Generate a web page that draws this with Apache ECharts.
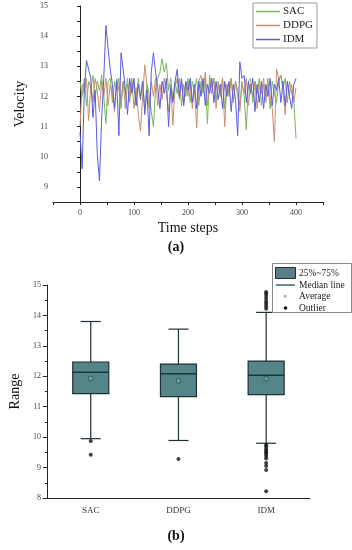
<!DOCTYPE html>
<html><head><meta charset="utf-8">
<script src="https://cdn.jsdelivr.net/npm/echarts@6/dist/echarts.min.js"></script>
<style>html,body{margin:0;padding:0;background:#fff}#c{width:352px;height:550px}</style>
</head><body><div id="c"></div>
<script>
// ---- Data (a): velocity, sampled every 4 time steps ----
var timeSteps = [];
for (var t = 0; t <= 400; t += 4) timeSteps.push(t);
var sacVel = [12.5,12.0,12.6,11.7,12.5,12.3,12.7,11.9,12.5,12.2,12.7,12.0,11.1,12.5,12.6,11.8,12.5,12.2,12.6,11.6,12.5,12.1,12.6,11.8,12.5,12.3,11.7,12.6,12.0,12.5,11.6,12.4,12.1,11.5,11.0,12.3,12.6,12.8,13.25,12.8,13.1,12.2,12.6,11.9,12.5,12.1,12.6,11.7,12.4,12.0,12.6,11.8,12.5,12.2,12.6,11.7,12.5,12.1,12.6,11.1,12.7,12.3,12.6,11.8,12.5,12.1,12.6,11.6,12.4,12.0,12.6,11.8,12.5,12.2,11.7,12.5,12.0,10.9,12.5,12.6,11.8,12.5,12.1,12.6,11.7,12.4,12.0,12.6,11.6,12.5,12.1,11.8,12.5,12.7,12.3,12.6,11.8,12.5,12.1,11.9,10.6];
var ddpgVel = [11.0,12.4,12.1,12.6,11.2,12.4,11.8,12.6,12.2,11.5,12.5,12.0,12.6,11.7,12.4,12.1,11.5,12.6,12.2,11.9,12.5,11.6,12.4,12.0,12.6,11.6,12.3,11.4,10.85,12.0,13.05,12.4,11.6,12.5,12.0,12.6,11.7,12.4,11.9,12.6,12.1,11.5,12.4,11.05,12.3,12.6,11.9,12.5,11.7,12.4,12.0,12.5,11.6,12.3,10.95,12.5,12.7,12.2,12.8,11.7,12.5,12.1,12.6,11.6,12.4,12.0,12.6,11.0,12.4,12.1,12.6,11.8,12.5,12.0,11.5,12.4,12.1,12.6,11.7,12.4,12.0,12.5,11.6,12.4,12.1,12.6,11.8,12.4,12.0,11.6,10.5,12.9,12.6,12.7,12.2,11.4,12.5,12.1,12.4,11.8,12.3];
var idmVel = [10.8,9.6,12.2,13.2,12.9,12.6,11.3,12.2,10.1,9.2,11.2,12.6,14.35,13.6,12.9,12.4,11.6,12.5,10.7,13.45,12.9,12.2,11.4,12.6,12.1,12.6,11.7,12.4,11.9,12.5,11.4,12.2,10.7,12.8,13.45,12.8,12.3,11.6,12.5,12.1,12.6,11.0,12.3,11.8,12.5,12.9,12.0,12.6,11.7,12.5,12.2,12.6,11.8,12.4,11.6,12.5,12.0,12.6,11.7,12.4,12.1,12.6,11.8,12.5,11.9,12.4,11.6,12.5,12.0,12.5,11.5,12.4,11.9,10.7,13.15,12.6,12.7,11.8,12.5,12.1,12.6,11.5,12.4,11.8,12.5,11.6,12.4,12.0,12.6,11.7,12.4,12.2,12.6,11.8,12.5,11.7,12.5,12.0,11.6,12.4,12.6];
var velTicks = [0, 100, 200, 300, 400];

// ---- Data (b): box statistics ----
var methods = ['SAC', 'DDPG', 'IDM'];
// [lower whisker, Q1, median, Q3, upper whisker]
var boxStats = [
  [9.95, 11.43, 12.13, 12.47, 13.8],
  [9.89, 11.33, 12.08, 12.40, 13.55],
  [9.80, 11.40, 12.03, 12.50, 14.1]
];
var means = [11.93, 11.85, 11.92];
var outlierSAC = [9.87, 9.42];
var outlierDDPG = [9.28];
var outlierIDM = [14.22, 14.3, 14.38, 14.46, 14.55, 14.64, 14.72, 14.77, 9.75, 9.7, 9.62, 9.56, 9.5, 9.45, 9.38, 9.3, 9.15, 9.05, 8.92, 8.22];

function pairs(xs, ys) { return xs.map(function (x, i) { return [x, ys[i]]; }); }
var outlierData = []
  .concat(outlierSAC.map(function (v) { return [0, v]; }))
  .concat(outlierDDPG.map(function (v) { return [1, v]; }))
  .concat(outlierIDM.map(function (v) { return [2, v]; }));

var serif = 'Liberation Serif';
var chart = echarts.init(document.getElementById('c'), null, {renderer: 'canvas'});
var axisColor = '#222';

chart.setOption({
  animation: false,
  textStyle: {fontFamily: serif},
  grid: [
    {left: 53, top: 6, width: 270, height: 196},
    {left: 36, top: 285, width: 274, height: 213}
  ],
  legend: {
    data: ['SAC', 'DDPG', 'IDM'],
    orient: 'vertical', left: 253, top: 3,
    icon: 'rect',
    itemWidth: 24, itemHeight: 1.5, itemGap: 3,
    padding: [3, 4, 3, 3],
    borderColor: '#999', borderWidth: 1,
    textStyle: {fontFamily: serif, fontSize: 11, color: '#222', padding: [0, 0, 0, -2], lineHeight: 11}
  },
  xAxis: [
    {gridIndex: 0, type: 'value', min: -50, max: 450, interval: 50,
     axisLine: {lineStyle: {color: axisColor}},
     axisTick: {inside: false, length: 3, lineStyle: {color: axisColor}},
     splitLine: {show: false},
     axisLabel: {fontSize: 8, color: '#444', margin: 7,
       formatter: function (v) { return velTicks.indexOf(v) >= 0 ? String(v) : ''; }},
     name: 'Time steps', nameLocation: 'middle', nameGap: 19,
     nameTextStyle: {fontFamily: serif, fontSize: 14, color: '#111'}},
    {gridIndex: 1, type: 'category', data: methods,
     axisLine: {lineStyle: {color: axisColor}},
     axisTick: {show: false},
     axisLabel: {fontSize: 9, color: '#333', margin: 8}}
  ],
  yAxis: [
    {gridIndex: 0, type: 'value', min: 8.5, max: 15, interval: 0.5,
     axisLine: {show: true, lineStyle: {color: axisColor}},
     axisTick: {show: true, length: 3, lineStyle: {color: axisColor}},
     splitLine: {show: false},
     axisLabel: {fontSize: 8, color: '#444', margin: 5,
       formatter: function (v) { return Number.isInteger(v) ? String(v) : ''; }},
     name: 'Velocity', nameLocation: 'middle', nameGap: 26,
     nameTextStyle: {fontFamily: serif, fontSize: 14, color: '#111'}},
    {gridIndex: 1, type: 'value', min: 8, max: 15, interval: 1,
     axisLine: {show: true, lineStyle: {color: axisColor}},
     axisTick: {show: true, length: 4, lineStyle: {color: axisColor}},
     minorTick: {show: true, splitNumber: 2, length: 2, lineStyle: {color: axisColor}},
     splitLine: {show: false},
     axisLabel: {fontSize: 8, color: '#444', margin: 6},
     name: 'Range', nameLocation: 'middle', nameGap: 19,
     nameTextStyle: {fontFamily: serif, fontSize: 14, color: '#111'}}
  ],
  series: [
    {name: 'SAC', type: 'line', xAxisIndex: 0, yAxisIndex: 0, data: pairs(timeSteps, sacVel),
     symbol: 'none', lineStyle: {width: 1, color: '#74b85a'}, itemStyle: {color: '#74b85a'}},
    {name: 'DDPG', type: 'line', xAxisIndex: 0, yAxisIndex: 0, data: pairs(timeSteps, ddpgVel),
     symbol: 'none', lineStyle: {width: 1, color: '#c98e70'}, itemStyle: {color: '#c98e70'}},
    {name: 'IDM', type: 'line', xAxisIndex: 0, yAxisIndex: 0, data: pairs(timeSteps, idmVel),
     symbol: 'none', lineStyle: {width: 1, color: '#5b5be0'}, itemStyle: {color: '#5b5be0'}},
    {name: 'box', type: 'custom', xAxisIndex: 1, yAxisIndex: 1,
     data: boxStats.map(function (s, i) { return [i].concat(s); }),
     renderItem: function (params, api) {
       var i = api.value(0);
       var pLo = api.coord([i, api.value(1)]);
       var pQ1 = api.coord([i, api.value(2)]);
       var pMd = api.coord([i, api.value(3)]);
       var pQ3 = api.coord([i, api.value(4)]);
       var pHi = api.coord([i, api.value(5)]);
       var x = pQ1[0], bw = 36, cw = 20;
       var st = {stroke: '#1f3035', lineWidth: 1.2};
       return {type: 'group', children: [
         {type: 'line', shape: {x1: x, y1: pHi[1], x2: x, y2: pQ3[1]}, style: st},
         {type: 'line', shape: {x1: x, y1: pQ1[1], x2: x, y2: pLo[1]}, style: st},
         {type: 'line', shape: {x1: x - cw / 2, y1: pHi[1], x2: x + cw / 2, y2: pHi[1]}, style: st},
         {type: 'line', shape: {x1: x - cw / 2, y1: pLo[1], x2: x + cw / 2, y2: pLo[1]}, style: st},
         {type: 'rect', shape: {x: x - bw / 2, y: pQ3[1], width: bw, height: pQ1[1] - pQ3[1]},
          style: {fill: '#558489', stroke: '#1f3035', lineWidth: 1.2}},
         {type: 'line', shape: {x1: x - bw / 2, y1: pMd[1], x2: x + bw / 2, y2: pMd[1]},
          style: {stroke: '#123c3c', lineWidth: 1.5}}
       ]};
     }},
    {name: 'Average', type: 'scatter', xAxisIndex: 1, yAxisIndex: 1,
     data: means.map(function (v, i) { return [i, v]; }),
     symbol: 'rect', symbolSize: 4, z: 5,
     itemStyle: {color: '#6fb0b0', borderColor: '#1d4b4f', borderWidth: 0.8}},
    {name: 'Outlier', type: 'scatter', xAxisIndex: 1, yAxisIndex: 1,
     data: outlierData, symbol: 'circle', symbolSize: 4, z: 5,
     itemStyle: {color: '#111'}}
  ],
  graphic: [
    {type: 'text', left: 'center', top: 240, style: {text: '(a)', font: 'bold 14px "Liberation Serif"', fill: '#111'}},
    {type: 'text', left: 'center', top: 529, style: {text: '(b)', font: 'bold 14px "Liberation Serif"', fill: '#111'}},
    // legend (b)
    {type: 'rect', shape: {x: 272.5, y: 263.5, width: 79, height: 49}, style: {fill: '#fff', stroke: '#888', lineWidth: 1}, z: 10},
    {type: 'rect', shape: {x: 275.5, y: 267.5, width: 20, height: 11}, style: {fill: '#5a7d8a', stroke: '#1f3035', lineWidth: 1}, z: 11},
    {type: 'text', x: 299, y: 273, style: {text: '25%~75%', font: '9.5px "Liberation Serif"', fill: '#222', verticalAlign: 'middle'}, z: 11},
    {type: 'line', shape: {x1: 276, y1: 285, x2: 295, y2: 285}, style: {stroke: '#1a5050', lineWidth: 1.3}, z: 11},
    {type: 'text', x: 299, y: 285, style: {text: 'Median line', font: '9.5px "Liberation Serif"', fill: '#222', verticalAlign: 'middle'}, z: 11},
    {type: 'rect', shape: {x: 284, y: 295, width: 2.5, height: 2.5}, style: {fill: '#aaa'}, z: 11},
    {type: 'text', x: 299, y: 296.5, style: {text: 'Average', font: '9.5px "Liberation Serif"', fill: '#222', verticalAlign: 'middle'}, z: 11},
    {type: 'circle', shape: {cx: 285.5, cy: 308, r: 1.8}, style: {fill: '#111'}, z: 11},
    {type: 'text', x: 299, y: 308, style: {text: 'Outlier', font: '9.5px "Liberation Serif"', fill: '#222', verticalAlign: 'middle'}, z: 11}
  ]
});
</script></body></html>
